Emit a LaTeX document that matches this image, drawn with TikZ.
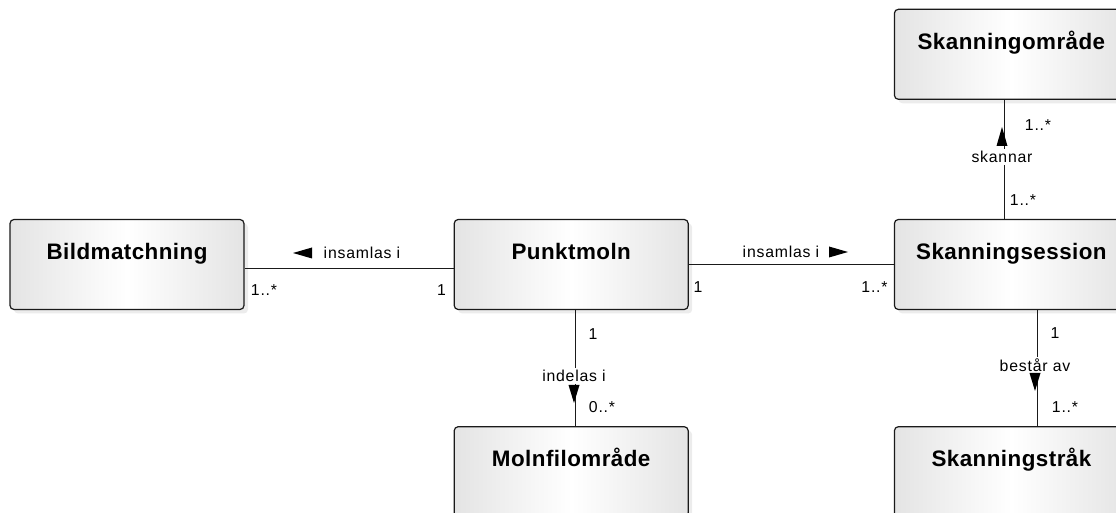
\documentclass[tikz,border=0pt]{standalone}
\usepackage{fontspec}
\setmainfont{Liberation Sans}
\newfontfamily\titlefont{Liberation Sans}[LetterSpace=2]
\newfontfamily\assocfont{Liberation Sans}[LetterSpace=5]
\usetikzlibrary{positioning, shadows}
\definecolor{cline}{HTML}{1A1A1A}
\definecolor{cshade}{HTML}{E4E4E4}
\definecolor{cshadow}{HTML}{DADADA}
\tikzset{
  entity/.style={rectangle, rounded corners=2pt, draw=cline, line width=0.6pt,
                 left color=cshade, right color=cshade, middle color=white,
                 drop shadow={shadow xshift=2pt, shadow yshift=-2pt, fill=cshadow},
                 minimum width=117pt, inner sep=0pt, text height=20pt, text depth=25pt,
                 font=\titlefont\bfseries\fontsize{11.2}{13}\selectfont},
  assoc/.style={draw=cline, line width=0.65pt},
  role/.style={font=\assocfont\fontsize{7.9}{9}\selectfont, inner sep=1pt},
  mult/.style={font=\assocfont\fontsize{7.9}{9}\selectfont, inner sep=0pt},
  dirmark/.style={fill=black}
}

\begin{document}
\begin{tikzpicture}[x=0.5pt, y=-0.5pt]
  \useasboundingbox (0,0) rectangle (1116,513);
  \clip (0,0) rectangle (1116,513);

  % classes
  \node[entity] (bild) at (127,264.5) {Bildmatchning};
  \node[entity, right=104.5pt of bild] (pm) {Punktmoln};
  \node[entity, right=102.5pt of pm] (ss) {Skanningsession};
  \node[entity, below=58pt of pm] (mf) {Molnfilområde};
  \node[entity, below=58pt of ss] (st) {Skanningstråk};
  \node[entity, above=59.5pt of ss] (so) {Skanningområde};

  % associations
  \draw[assoc] ([yshift=-2pt]bild.east) -- ([yshift=-2pt]pm.west);
  \draw[assoc] (pm.east) -- (ss.west);
  \draw[assoc] ([xshift=2pt]pm.south) -- ([xshift=2pt]mf.north);
  \draw[assoc] ([xshift=13pt]ss.south) -- ([xshift=13pt]st.north);
  \draw[assoc] ([xshift=-3.5pt]ss.north) -- ([xshift=-3.5pt]so.south);

  % association names and reading direction
  \node[role] (insL) at (362,253) {insamlas i};
  \coordinate (dirL) at (303,253);
  \fill[dirmark] (dirL) ++(-10,0) -- ++(19,-5.5) -- ++(0,11) -- cycle;
  \node[role] (insR) at (781,252) {insamlas i};
  \coordinate (dirR) at (838.5,252);
  \fill[dirmark] (dirR) ++(9.5,0) -- ++(-19,-5.5) -- ++(0,11) -- cycle;
  \node[role, fill=white] (indel) at (574,376) {indelas i};
  \coordinate (dirI) at (574,394);
  \fill[dirmark] (dirI) ++(0,9) -- ++(-5.5,-18) -- ++(11,0) -- cycle;
  \node[role, fill=white] (best) at (1035,365) {består av};
  \coordinate (dirB) at (1035,382);
  \fill[dirmark] (dirB) ++(0,9) -- ++(-5.5,-18) -- ++(11,0) -- cycle;
  \node[role, fill=white] (skan) at (1002,157) {skannar};
  \coordinate (dirS) at (1002,136.5);
  \fill[dirmark] (dirS) ++(0,-9.5) -- ++(-5.5,19) -- ++(11,0) -- cycle;

  % multiplicities
  \node[mult] (m1) at (264,290) {1..*};
  \node[mult] (m2) at (441.5,290) {1};
  \node[mult] (m3) at (698,287) {1};
  \node[mult] (m4) at (874.5,287) {1..*};
  \node[mult] (m5) at (593,334) {1};
  \node[mult] (m6) at (602,407) {0..*};
  \node[mult] (m7) at (1055,333) {1};
  \node[mult] (m8) at (1065,407) {1..*};
  \node[mult] (m9) at (1038,125) {1..*};
  \node[mult] (m10) at (1023,200) {1..*};
\end{tikzpicture}
\end{document}
